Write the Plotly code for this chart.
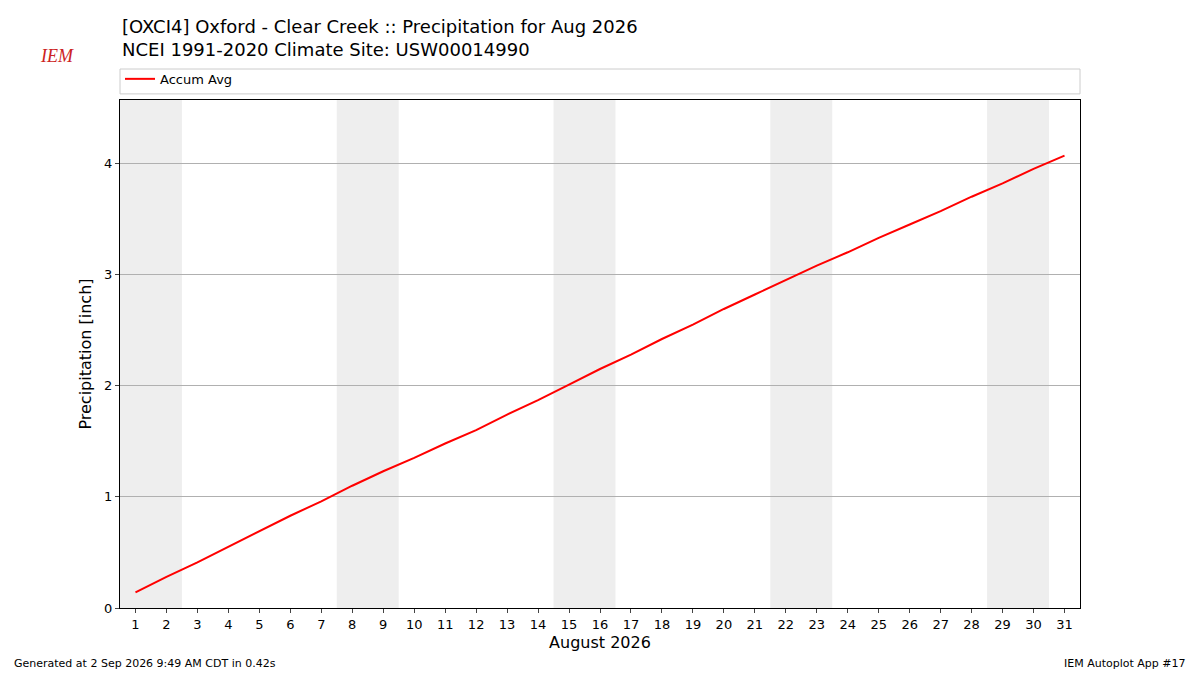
import plotly.graph_objects as go

days = list(range(1, 32))
accum_avg = [0.14, 0.28, 0.41, 0.55, 0.69, 0.83, 0.96, 1.10, 1.23, 1.35,
             1.48, 1.60, 1.74, 1.87, 2.01, 2.15, 2.28, 2.42, 2.55, 2.69,
             2.82, 2.95, 3.08, 3.20, 3.33, 3.45, 3.57, 3.70, 3.82, 3.95, 4.07]
weekends = [(1, 2), (8, 9), (15, 16), (22, 23), (29, 30)]

fig = go.Figure()
fig.add_trace(go.Scatter(x=days, y=accum_avg, mode="lines", name="Accum Avg",
                         line=dict(color="red", width=2)))

for a, b in weekends:
    fig.add_vrect(x0=a - 0.5, x1=b + 0.5, fillcolor="#eeeeee", line_width=0, layer="below")

# full-width legend frame above the plot
fig.add_shape(type="rect", xref="paper", yref="paper", x0=0, x1=1, y0=1.012, y1=1.061,
              line=dict(color="#cccccc", width=1), fillcolor="rgba(0,0,0,0)")

fig.update_layout(
    width=1200, height=675,
    font=dict(family="DejaVu Sans", size=13, color="black"),
    paper_bgcolor="white", plot_bgcolor="white",
    margin=dict(l=112, r=128, t=92, b=75),
    showlegend=True,
    legend=dict(x=0, y=1.012, xanchor="left", yanchor="bottom", bgcolor="rgba(0,0,0,0)",
                borderwidth=0, font=dict(size=13), tracegroupgap=0),
    xaxis=dict(range=[0.5, 31.5], tickmode="array", tickvals=days,
               ticks="outside", ticklen=4, showgrid=False, showline=True,
               linecolor="black", mirror=True, zeroline=False,
               title=dict(text="August 2026", font=dict(size=16), standoff=6)),
    yaxis=dict(range=[0, 4.57], tickvals=[0, 1, 2, 3, 4], ticks="outside", ticklen=4,
               showgrid=True, gridcolor="#b0b0b0", showline=True, linecolor="black",
               mirror=True, zeroline=False,
               title=dict(text="Precipitation [inch]", font=dict(size=16), standoff=8)),
)

fig.add_annotation(text="[OXCI4] Oxford - Clear Creek :: Precipitation for Aug 2026<br>"
                        "NCEI 1991-2020 Climate Site: USW00014990",
                   xref="paper", yref="paper", x=0, y=1.17, xanchor="left", yanchor="top",
                   showarrow=False, align="left", font=dict(size=18))
fig.add_annotation(text="<i>IEM</i>", xref="paper", yref="paper", x=-0.085, y=1.11,
                   showarrow=False, font=dict(family="Liberation Serif", size=18, color="#cc2222"))
fig.add_annotation(text="Generated at 2 Sep 2026 9:49 AM CDT in 0.42s", xref="paper", yref="paper",
                   x=-0.113, y=-0.11, xanchor="left", yanchor="middle", showarrow=False,
                   font=dict(size=11))
fig.add_annotation(text="IEM Autoplot App #17", xref="paper", yref="paper",
                   x=1.113, y=-0.11, xanchor="right", yanchor="middle", showarrow=False,
                   font=dict(size=11))

fig.write_html("out.html")
